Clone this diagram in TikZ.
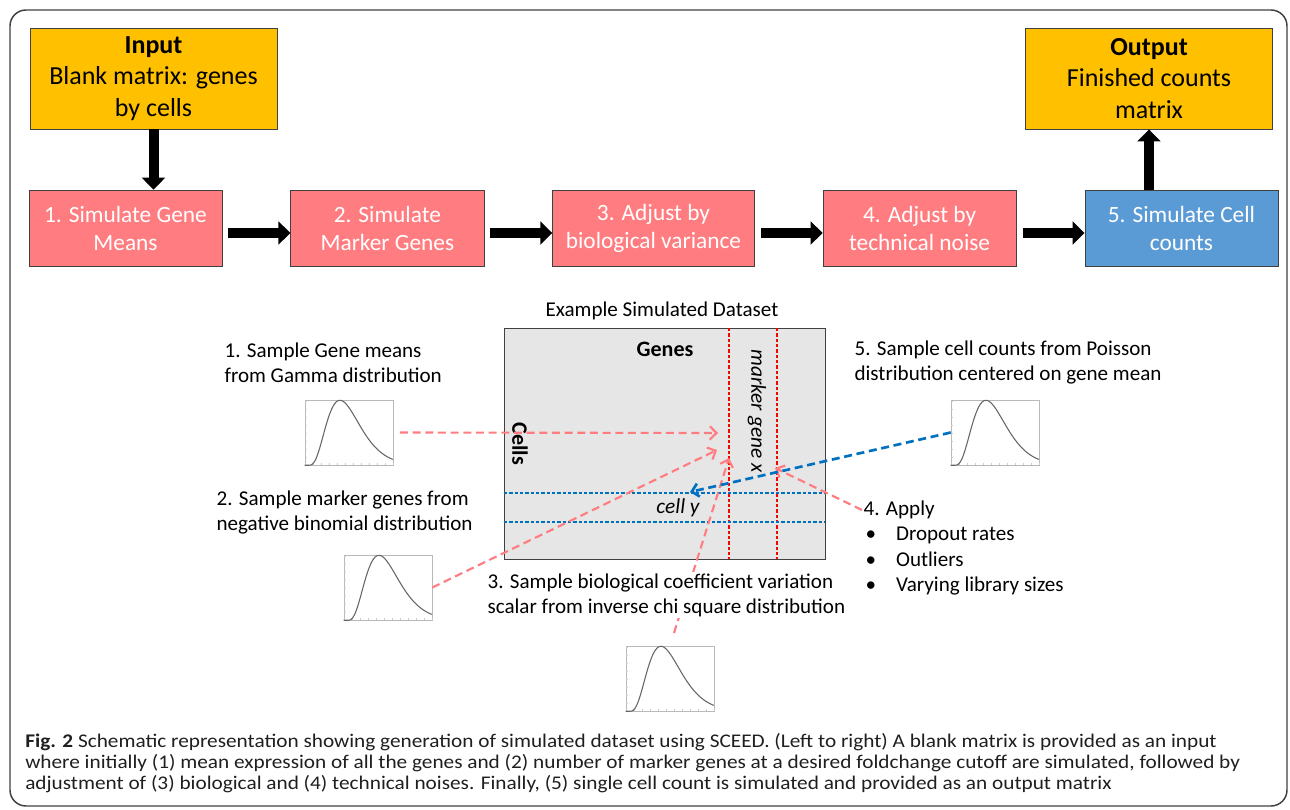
\documentclass[tikz,border=0pt]{standalone}
\usepackage{fontspec}
\setmainfont{Carlito}
\newfontfamily\capfont[FakeStretch=1.1]{Carlito}
\usetikzlibrary{positioning,arrows.meta}
\definecolor{boxgold}{HTML}{FFC000}
\definecolor{boxpink}{HTML}{FF7C80}
\definecolor{boxblue}{HTML}{5B9BD5}
\definecolor{matgray}{HTML}{E6E6E6}
\definecolor{linkblue}{HTML}{0070C0}
\definecolor{edgegray}{HTML}{404040}

\begin{document}
\begin{tikzpicture}[x=0.75pt,y=-0.75pt,
  iobox/.style={draw=edgegray,fill=boxgold,align=center,minimum width=185pt,minimum height=76pt,
    font=\fontsize{19.5pt}{23.6pt}\selectfont},
  stepbox/.style={draw=edgegray,fill=boxpink,text=white,align=center,minimum width=145pt,
    minimum height=57pt,inner xsep=10pt,font=\fontsize{17.5pt}{21pt}\selectfont},
  bigarrow/.style={line width=7.5pt,-{Triangle[length=9pt,width=17pt]}},
  note/.style={align=left,inner sep=1pt,font=\fontsize{15.8pt}{18.75pt}\selectfont},
  distbox/.style={draw=gray!55,minimum width=66pt,minimum height=48.75pt,inner sep=0pt},
  link/.style={draw=boxpink,line width=1.6pt,dash pattern=on 6pt off 3.5pt,
    -{Straight Barb[length=5pt,width=10pt]}},
  colline/.style={draw=red,line width=0.8pt,dash pattern=on 2.5pt off 1.5pt},
  rowline/.style={draw=linkblue,line width=0.8pt,dash pattern=on 2.5pt off 1.5pt}]
  \useasboundingbox (0,0) rectangle (1290,810);
  \draw[edgegray,line width=1.1pt,rounded corners=12pt] (10,10) rectangle (1287,806);

  \node[iobox]              (in)  at (153.5,78.5) {\textbf{Input}\\Blank matrix: genes\\by cells};
  \node[iobox]              (out) at (1149,78.5)  {\textbf{Output}\\Finished counts\\matrix};
  \node[stepbox]            (b1)  at (125.5,228)  {1. Simulate Gene\\Means};
  \node[stepbox]            (b2)  [right=51pt of b1] {2. Simulate\\Marker Genes};
  \node[stepbox]            (b3)  [right=51pt of b2] {3. Adjust by\\biological variance};
  \node[stepbox]            (b4)  [right=51pt of b3] {4. Adjust by\\technical noise};
  \node[stepbox,fill=boxblue] (b5) [right=51pt of b4] {5. Simulate Cell\\counts};

  \draw[bigarrow] (in.south) -- (in.south |- b1.north);
  \draw[bigarrow] (out.south |- b5.north) -- (out.south);
  \foreach \a/\b in {b1/b2,b2/b3,b3/b4,b4/b5}
    \draw[bigarrow,shorten <=4.5pt] ([yshift=-3.75pt]\a.east) -- ([yshift=-3.75pt]\b.west);

  % example dataset
  \node[note] (title) at (662,311) {Example Simulated Dataset};
  \node[draw=edgegray,fill=matgray,minimum width=240.75pt,minimum height=173.25pt] (mat) at (664.5,443.5) {};
  \draw[colline] (729,328) -- (729,559);
  \draw[colline] (777,328) -- (777,559);
  \draw[rowline] (504,493) -- (825,493);
  \draw[rowline] (504,522) -- (825,522);
  \node[font=\fontsize{16.5pt}{19pt}\selectfont\bfseries] (genes) at (665,349) {Genes};
  \node[font=\fontsize{16.5pt}{19pt}\selectfont\bfseries,rotate=-90] (cells) at (520,444) {Cells};
  \node[font=\fontsize{16pt}{19pt}\selectfont\itshape,rotate=-90] (gx) at (757,411) {marker gene x};
  \node[font=\fontsize{16pt}{19pt}\selectfont\itshape] (cy) at (678,508) {cell y};

  \coordinate (g1) at (718,433);
  \coordinate (g2) at (717,450);
  \coordinate (g3) at (729,458);
  \coordinate (g4) at (775,468);
  \coordinate (c5) at (690,492);

  % distributions
  \node[distbox] (p1) at (349,432.5) {};
  \node[distbox] (p2) at (388,587.5) {};
  \node[distbox] (p3) at (670,678.5) {};
  \node[distbox] (p5) at (995,432.5) {};
  \foreach \p in {p1,p2,p3,p5}{
    \begin{scope}[shift={(\p.south west)}]
      \foreach \t in {0,8,...,88} \draw[gray!40,line width=0.3pt] (\t,0) -- (\t,-2);
      \foreach \t in {0,8,...,64} \draw[gray!40,line width=0.3pt] (0,-\t) -- (2,-\t);
      \draw[gray!80!black,line width=0.8pt] (0,0) -- (3.5,0) -- plot[domain=0.045:1,samples=50,smooth]
        ({88*\x},{-65*exp(3.5*(ln((\x-0.04)/0.36)+1-(\x-0.04)/0.36))});
    \end{scope}
  }

  \node[note,anchor=west] (t1) at (223,362.5) {1. Sample Gene means\\from Gamma distribution};
  \node[note,anchor=west] (t2) at (215,512.5) {2. Sample marker genes from\\negative binomial distribution};
  \node[note,anchor=west] (t5) at (853,362.5) {5. Sample cell counts from Poisson\\distribution centered on gene mean};
  \node[note,anchor=west] (t4) at (862,510) {4. Apply};
  \node[note,anchor=west] (t4b) at (864,561) {\begin{tabular}{@{}l@{\hspace{15pt}}l@{}}
    \textbullet & Dropout rates\\[0.4pt] \textbullet & Outliers\\[0.4pt] \textbullet & Varying library sizes\end{tabular}};

  \draw[link,shorten <=5pt] (p1.east) -- (g1);
  \draw[link] (p2.east) -- (g2);
  \draw[link,shorten <=10pt] (p3.north) -- (g3);
  \draw[link] (t4.west) -- (g4);
  \draw[link,draw=linkblue,line width=2pt] (p5.west) -- (c5);

  \node[note,anchor=west,fill=white] (t3) at (486,595) {3. Sample biological coefficient variation\\scalar from inverse chi square distribution};

  \node[anchor=north west,align=left,inner sep=0pt,text=black!88,
    font=\capfont\fontsize{14.5pt}{15.8pt}\selectfont] (cap) at (25,733)
    {\textbf{Fig. 2} Schematic representation showing generation of simulated dataset using SCEED. (Left to right) A blank matrix is provided as an input\\
     where initially (1) mean expression of all the genes and (2) number of marker genes at a desired foldchange cutoff are simulated, followed by\\
     adjustment of (3) biological and (4) technical noises. Finally, (5) single cell count is simulated and provided as an output matrix};
\end{tikzpicture}
\end{document}
